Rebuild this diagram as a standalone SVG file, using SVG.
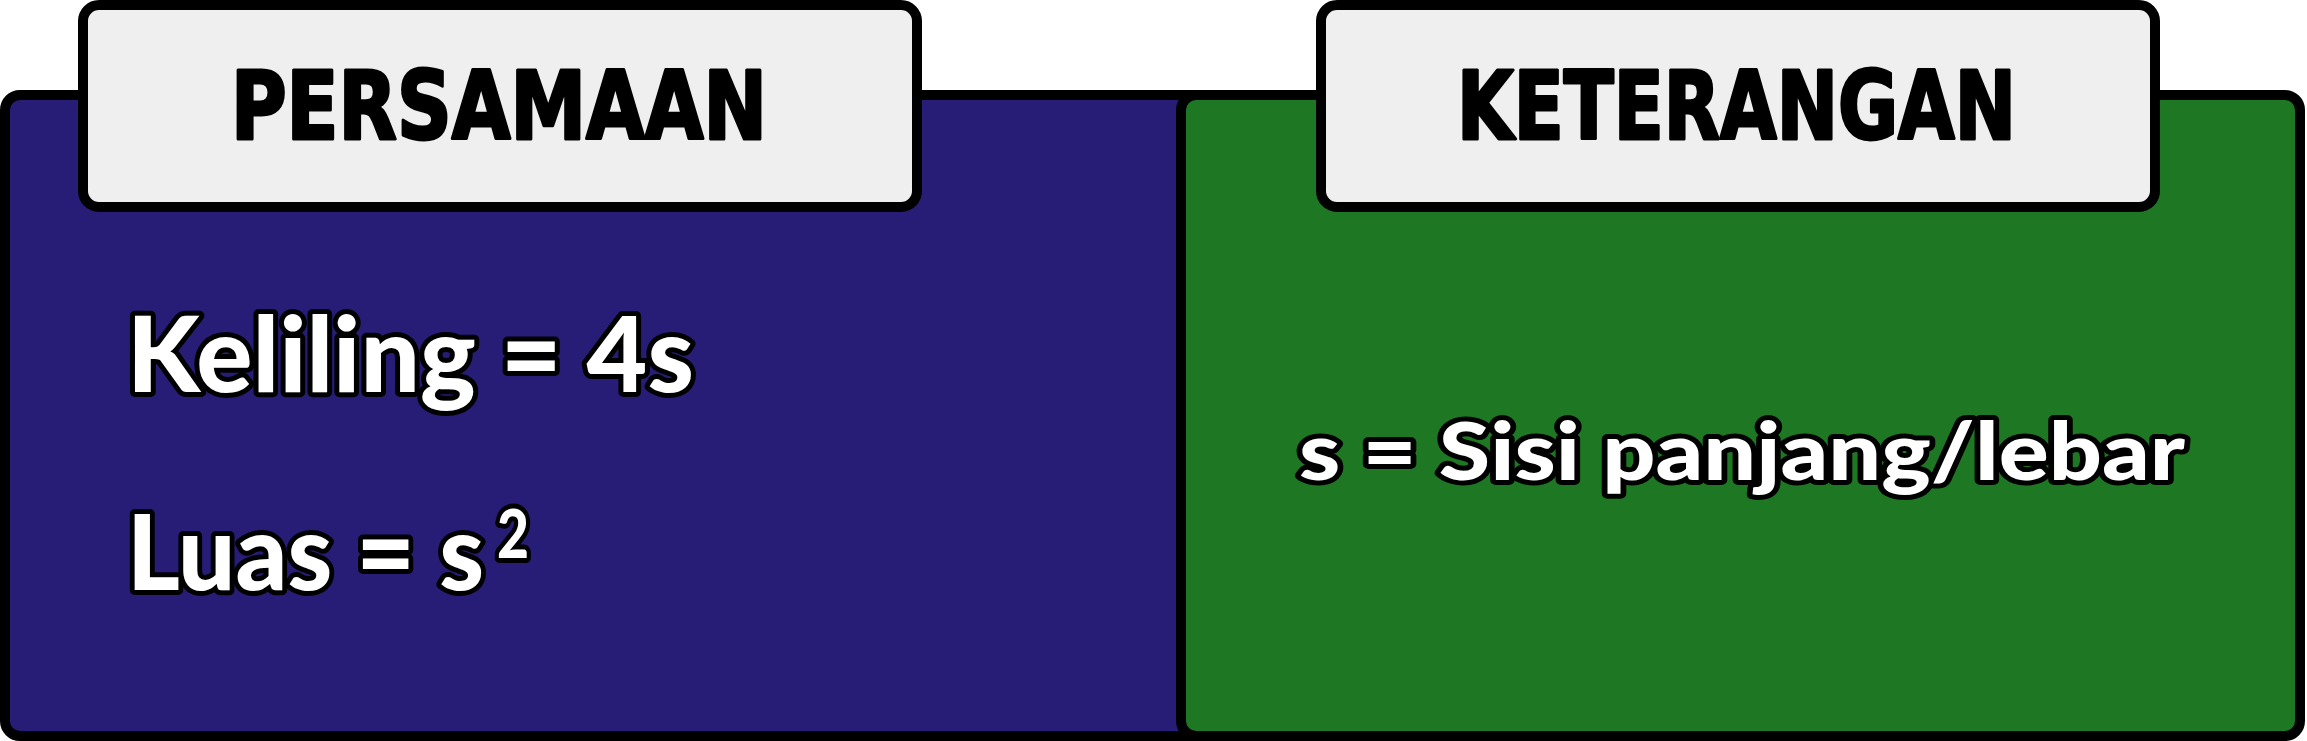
<svg xmlns="http://www.w3.org/2000/svg" width="2307" height="741" viewBox="0 0 2307 741">
<style>
.panel{stroke:#000;stroke-width:10}
.hdr{fill:#efefef;stroke:#000;stroke-width:10}
.htxt{font-family:"DejaVu Sans Condensed","DejaVu Sans",sans-serif;font-weight:bold;font-size:94px;fill:#000;stroke:#000;stroke-width:3;stroke-linejoin:round}
.btxt{font-family:Lato,"DejaVu Sans",sans-serif;font-weight:900;fill:#fff;stroke:#000;stroke-width:10;stroke-linejoin:round;paint-order:stroke}
</style>
<rect width="2307" height="741" fill="#fff"/>
<g id="panel-persamaan">
<rect class="panel" x="5" y="95" width="1215" height="641" rx="15" fill="#271d76"/>
</g>
<g id="panel-keterangan">
<rect class="panel" x="1181" y="95" width="1119" height="641" rx="15" fill="#1e7722"/>
</g>
<g id="header-persamaan">
<rect class="hdr" x="83" y="5" width="834" height="202" rx="16"/>
<text class="htxt" x="231" y="139" textLength="536" lengthAdjust="spacingAndGlyphs">PERSAMAAN</text>
</g>
<g id="header-keterangan">
<rect class="hdr" x="1321" y="5" width="834" height="202" rx="16"/>
<text class="htxt" x="1457" y="139" textLength="559" lengthAdjust="spacingAndGlyphs">KETERANGAN</text>
</g>
<g id="persamaan-content">
<text class="btxt" x="127" y="392" font-size="104" textLength="567" lengthAdjust="spacingAndGlyphs">Keliling = 4s</text>
<text class="btxt" x="127" y="590" font-size="104" textLength="357" lengthAdjust="spacingAndGlyphs">Luas = s</text>
<text class="btxt" x="497" y="558" font-size="66" textLength="32" lengthAdjust="spacingAndGlyphs">2</text>
</g>
<g id="keterangan-content">
<text class="btxt" x="1299" y="480" font-size="80" textLength="886" lengthAdjust="spacingAndGlyphs">s = Sisi panjang/lebar</text>
</g>
<g id="connectors"></g>
</svg>
